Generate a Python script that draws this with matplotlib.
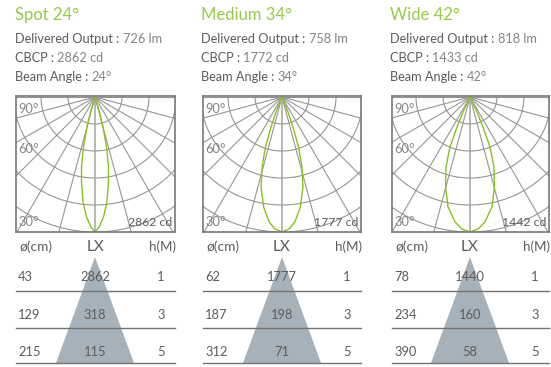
import numpy as np
import matplotlib
matplotlib.use('Agg')
import matplotlib.pyplot as plt

plt.rcParams['font.family'] = ['Lato', 'DejaVu Sans']

W, H = 551, 367

titles = ['Spot 24°', 'Medium 34°', 'Wide 42°']
output_lm = [726, 758, 818]
cbcp_cd = [2862, 1772, 1433]
beam_deg = [24, 34, 42]
peak_cd = [2862, 1777, 1442]

# candela curves, half plane
spot_angle = [0, 1.8, 4.05, 6.5, 9.0, 10.9, 13.0, 14.9, 16.7, 18]
spot_cd = [2862, 2757, 2550, 2240, 1825, 1511, 1088, 658, 332, 0]
medium_angle = [0, 3.0, 5.9, 9.5, 13.1, 15.9, 18.3, 20.1, 21.8, 24]
medium_cd = [1777, 1740, 1654, 1467, 1216, 958, 694, 421, 213, 0]
wide_angle = [0, 3.5, 6.8, 11.3, 15.2, 18.9, 21.8, 23.4, 25, 28]
wide_cd = [1442, 1412, 1345, 1198, 995, 790, 576, 349, 177, 0]
curves = [(spot_angle, spot_cd), (medium_angle, medium_cd), (wide_angle, wide_cd)]

heights = ['1', '3', '5']
spot_dia = [43, 129, 215]
spot_lx = [2862, 318, 115]
medium_dia = [62, 187, 312]
medium_lx = [1777, 198, 71]
wide_dia = [78, 234, 390]
wide_lx = [1440, 160, 58]
dia = [spot_dia, medium_dia, wide_dia]
lx = [spot_lx, medium_lx, wide_lx]

# panel layout in pixels: left, right, centre
panels = [(16, 175, 95), (203, 361, 282), (392, 549, 470)]
text_left = [15, 201, 390]

GREEN = '#96CA4B'
LIME = '#8CBF1E'
DARK = '#5c5c5c'
LIGHT = '#858585'
GRID = '#969696'

fig = plt.figure(figsize=(W / 100, H / 100), dpi=100)
page = fig.add_axes([0, 0, 1, 1])
page.set_xlim(0, W)
page.set_ylim(H, 0)
page.axis('off')

for i in range(3):
    left, right, cx = panels[i]
    tx = text_left[i]

    # header text
    page.text(tx, 15, titles[i], color=GREEN, fontsize=12.0, va='center', ha='left')
    rows = [('Delivered Output : ', '%d lm' % output_lm[i], 39),
            ('CBCP : ', '%d cd' % cbcp_cd[i], 58),
            ('Beam Angle : ', '%d°' % beam_deg[i], 77)]
    for label, value, y in rows:
        t = page.text(tx, y, label, color=DARK, fontsize=9.2, va='center', ha='left')
        page.annotate(value, xy=(1, 0), xycoords=t, va='bottom', ha='left', color=LIGHT, fontsize=9.2)

    # polar plot, scaled in cd so that the peak reaches the box bottom
    peak = peak_cd[i]
    top, bottom = 96, 232
    px = peak / 135.0
    ax = fig.add_axes([left / W, 1 - bottom / H, (right - left) / W, (bottom - top) / H])
    ax.set_xlim((left - cx) * px, (right - cx) * px)
    ax.set_ylim(-135 * px, 1 * px)
    ax.set_xticks([])
    ax.set_yticks([])
    for s in ax.spines.values():
        s.set_color('#787878')
        s.set_linewidth(1.2)
    t = np.radians(np.arange(0, 361))
    for k in range(1, 6):
        r = peak * k / 5
        ax.plot(r * np.sin(t), -r * np.cos(t), color=GRID, lw=0.8)
    for a in range(-90, 91, 15):
        s = np.radians(a)
        c = '#ababab' if a == 0 else GRID
        ax.plot([0, 2 * peak * np.sin(s)], [0, -2 * peak * np.cos(s)], color=c, lw=1.2 if a == 0 else 0.8)
    ang, cd = curves[i]
    ang = np.radians(np.array(ang))
    cd = np.array(cd)
    # close the curve on both sides of the axis
    xs = np.concatenate([cd * np.sin(ang), (-cd * np.sin(ang))[::-1]])
    ys = np.concatenate([-cd * np.cos(ang), (-cd * np.cos(ang))[::-1]])
    ax.plot(xs, ys, color=LIME, lw=1.0)

    ax.text(2 / (right - left), (bottom - 109) / (bottom - top), '90°', transform=ax.transAxes,
            color=LIGHT, fontsize=9.3, va='center', ha='left')
    ax.text(2 / (right - left), (bottom - 149) / (bottom - top), '60°', transform=ax.transAxes,
            color=LIGHT, fontsize=9.3, va='center', ha='left')
    ax.text(2 / (right - left), (bottom - 222) / (bottom - top), '30°', transform=ax.transAxes,
            color=LIGHT, fontsize=9.3, va='center', ha='left')
    ax.text(1 - 3 / (right - left), (bottom - 222) / (bottom - top), '%d cd' % peak, transform=ax.transAxes,
            color=DARK, fontsize=8.8, va='center', ha='right')

    # light cone table
    page.fill([cx, cx - 39, cx + 39], [257, 363, 363], color='#A7B1BA', lw=0, zorder=1)
    for y in [291, 327.5, 363]:
        page.plot([left, right], [y, y], color='#747474', lw=1.0, zorder=2)
    page.text(left + 3, 247, 'ø(cm)', color=DARK, fontsize=9.8, va='center', ha='left', zorder=3)
    page.text(cx, 247, 'LX', color=DARK, fontsize=11, va='center', ha='center', zorder=3)
    page.text(right + 1, 247, 'h(M)', color=DARK, fontsize=9.6, va='center', ha='right', zorder=3)
    for j, y in enumerate([277, 315, 352]):
        page.text(left + 2, y, str(dia[i][j]), color=DARK, fontsize=9.3, va='center', ha='left', zorder=3)
        page.text(cx, y, str(lx[i][j]), color=DARK, fontsize=9.3, va='center', ha='center', zorder=3)
        page.text(right - 14, y, heights[j], color=DARK, fontsize=9.3, va='center', ha='center', zorder=3)

fig.savefig('out.png', dpi=100)
